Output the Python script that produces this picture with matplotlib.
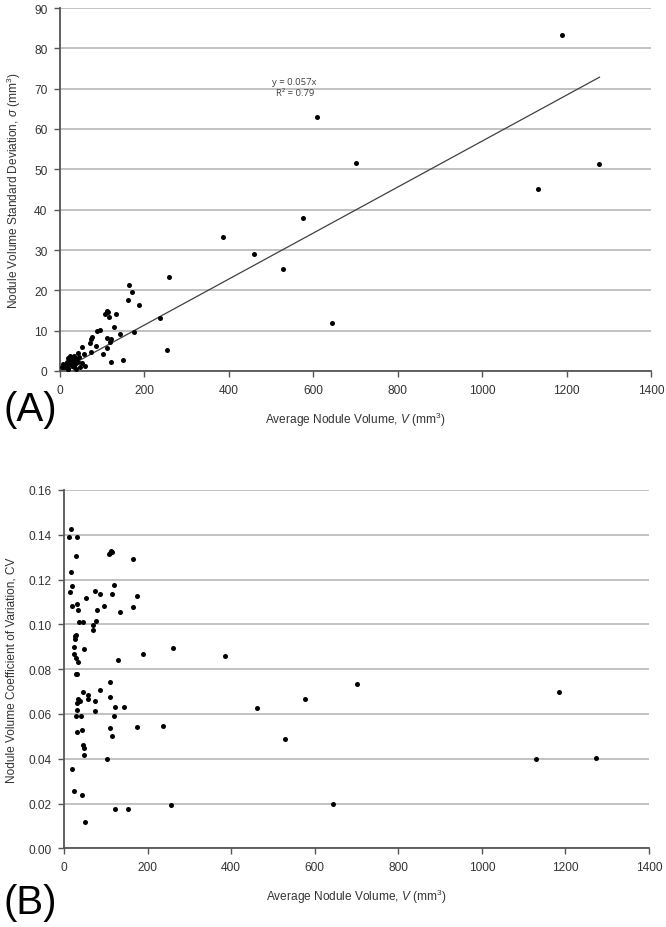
import matplotlib
matplotlib.use("Agg")
import matplotlib.pyplot as plt
import numpy as np

plt.rcParams['font.family'] = ['Liberation Sans', 'DejaVu Sans']
plt.rcParams['mathtext.fontset'] = 'custom'
plt.rcParams['mathtext.rm'] = 'Liberation Sans'
plt.rcParams['mathtext.it'] = 'Liberation Sans:italic'

# (A) average volume vs standard deviation
vol_a = [1188, 1278, 1133, 608, 702, 576, 528, 644, 385, 460, 258, 254,
         163, 171, 161, 187, 236, 175, 141, 149, 120,
         111, 107, 114, 116, 133, 127, 94, 87, 120, 111, 118, 111,
         75, 73, 70, 85, 73, 101, 51, 56, 43, 34, 24,
         39, 31, 20, 16, 8, 24, 36, 43, 47, 12, 20, 28, 39, 16, 51, 4, 32,
         10, 22, 45, 60, 18, 27, 6]
sd_a = [83.2, 51.3, 45.2, 63.0, 51.5, 38.0, 25.4, 11.9, 33.1, 29.1, 23.2, 5.1,
        21.4, 19.5, 17.7, 16.4, 13.1, 9.6, 9.1, 2.7, 2.2,
        15.0, 14.1, 14.6, 13.3, 14.2, 10.8, 10.2, 9.8, 7.9, 8.1, 7.3, 5.8,
        8.4, 7.9, 6.9, 6.3, 4.8, 4.2, 5.9, 4.2, 4.5, 3.6, 3.8,
        3.0, 2.6, 3.1, 2.15, 1.74, 1.74, 1.74, 2.15, 0.91, 0.91, 0.5, 1.3, 0.5, 1.3, 2.1, 0.9, 0.9,
        1.5, 2.4, 3.4, 1.2, 0.6, 2.9, 1.1]
slope = 0.057
eq_text = "y = 0.057x\nR\u00b2 = 0.79"

# (B) average volume vs coefficient of variation
vol_b = [1185, 1273, 1130, 701, 577, 528, 644, 385, 462, 237, 175, 260, 188,
         16, 13, 30, 28, 109, 112, 114, 107, 165, 16, 19, 14, 73, 87, 120, 116,
         53, 174, 18, 30, 34, 78, 95, 164, 134, 37, 46, 69, 76, 69,
         28, 27, 26, 23, 24, 29, 34, 47, 130, 28, 32, 111, 45, 86, 110,
         57, 58, 34, 38, 32, 74, 32, 75, 122, 143, 28, 41, 120, 31, 42,
         111, 114, 46, 49, 47, 102, 18, 25, 43, 122, 152, 50, 257]
cv_b = [0.0699, 0.0404, 0.0400, 0.0735, 0.0665, 0.0488, 0.0197, 0.0859, 0.0627,
        0.0546, 0.0542, 0.0893, 0.0870,
        0.1425, 0.1392, 0.1389, 0.1306, 0.1320, 0.1327, 0.1323, 0.1315, 0.1294,
        0.1236, 0.1172, 0.1143, 0.1151, 0.1137, 0.1175, 0.1137,
        0.1119, 0.1125, 0.1080, 0.1089, 0.1066, 0.1063, 0.1083, 0.1079, 0.1057,
        0.1012, 0.1012, 0.0996, 0.1015, 0.0974,
        0.0952, 0.0947, 0.0935, 0.0899, 0.0867, 0.0849, 0.0834, 0.0890, 0.0841,
        0.0778, 0.0778, 0.0743, 0.0697, 0.0709, 0.0675,
        0.0683, 0.0665, 0.0665, 0.0656, 0.0647, 0.0660, 0.0617, 0.0613, 0.0632,
        0.0632, 0.0593, 0.0593, 0.0591, 0.0521, 0.0528,
        0.0537, 0.0500, 0.0463, 0.0450, 0.0418, 0.0399, 0.0353, 0.0255, 0.0237,
        0.0174, 0.0175, 0.0116, 0.0194]

x_ticks = list(range(0, 1401, 200))
y_ticks_a = list(range(0, 91, 10))
y_ticks_b = [0.00, 0.02, 0.04, 0.06, 0.08, 0.10, 0.12, 0.14, 0.16]

axis_col = '#555555'
grid_col = '#bdbdbd'
text_col = '#333333'


def style_axes(ax):
    for s in ['top', 'right']:
        ax.spines[s].set_visible(False)
    for s in ['left', 'bottom']:
        ax.spines[s].set_color(axis_col)
        ax.spines[s].set_linewidth(1.3)
    ax.tick_params(direction='out', length=4, width=1, color=axis_col,
                   labelsize=8.6, labelcolor=text_col, pad=5)
    ax.yaxis.grid(True, color=grid_col, linewidth=1.3)
    ax.set_axisbelow(True)


fig = plt.figure(figsize=(6.66, 9.28), dpi=100)

# top chart
ax1 = fig.add_axes([60 / 666, 1 - 372 / 928, 591 / 666, 363 / 928])
style_axes(ax1)
ax1.scatter(vol_a, sd_a, s=13, color='black', zorder=3, linewidths=0)
xs = np.array([0, max(vol_a)])
ax1.plot(xs, slope * xs, color='#404040', linewidth=0.9, zorder=2)
ax1.text(556, 70.5, eq_text, ha='center', va='center', fontsize=6.8,
         color='#404040', family=['Open Sans', 'DejaVu Sans'], linespacing=1.3)
ax1.set_xlim(0, 1400)
ax1.set_ylim(0, 90)
ax1.set_xticks(x_ticks)
ax1.set_yticks(y_ticks_a)
ax1.set_xlabel(r"Average Nodule Volume, $\mathit{V}$ (mm$^3$)", fontsize=8.6,
               color=text_col, labelpad=10)
ax1.set_ylabel(r"Nodule Volume Standard Deviation, $\mathit{\sigma}$ (mm$^3$)",
               fontsize=8.6, color=text_col, labelpad=8)
fig.text(4 / 666, 1 - 410 / 928, "(A)", fontsize=29, va='center', ha='left')

# bottom chart
ax2 = fig.add_axes([64 / 666, 1 - 849.4 / 928, 585 / 666, 358.4 / 928])
style_axes(ax2)
ax2.scatter(vol_b, cv_b, s=13, color='black', zorder=3, linewidths=0)
ax2.set_xlim(0, 1400)
ax2.set_ylim(0, 0.16)
ax2.set_xticks(x_ticks)
ax2.set_yticks(y_ticks_b)
ax2.set_yticklabels(["%.2f" % v for v in y_ticks_b])
ax2.set_xlabel(r"Average Nodule Volume, $\mathit{V}$ (mm$^3$)", fontsize=8.6,
               color=text_col, labelpad=10)
ax2.set_ylabel("Nodule Volume Coefficient of Variation, CV", fontsize=8.6,
               color=text_col, labelpad=8)
fig.text(4 / 666, 1 - 903 / 928, "(B)", fontsize=29, va='center', ha='left')

fig.savefig("out.png", dpi=100)
